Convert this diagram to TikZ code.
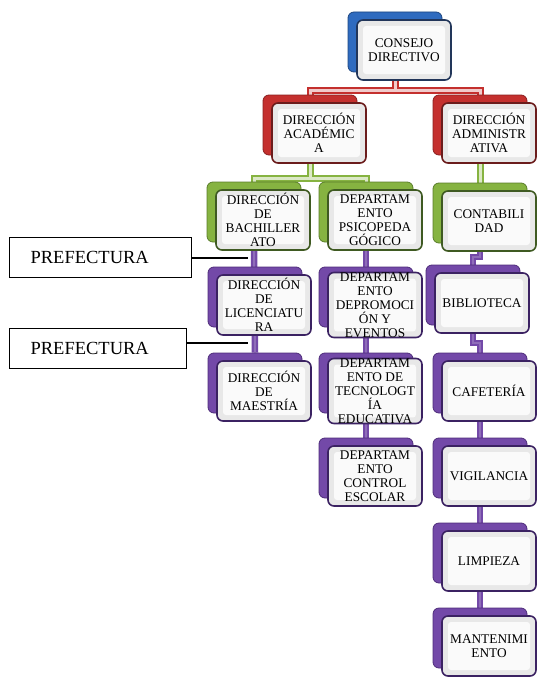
\documentclass[tikz,border=0pt]{standalone}
\usepackage{fontspec}
\setmainfont{Liberation Serif}
\usetikzlibrary{calc,backgrounds}
\definecolor{blueB}{HTML}{2F6BBF}\definecolor{blueD}{HTML}{1D4680}\definecolor{blueF}{HTML}{22365A}
\definecolor{redB}{HTML}{C4302E}\definecolor{redD}{HTML}{8A1F1F}\definecolor{redF}{HTML}{6B1C1C}
\definecolor{greenB}{HTML}{86B341}\definecolor{greenD}{HTML}{5A7D2A}\definecolor{greenF}{HTML}{3F5A22}
\definecolor{purB}{HTML}{7349A8}\definecolor{purD}{HTML}{4E2C7A}\definecolor{purF}{HTML}{3B2262}
\tikzset{
  backbox/.style={rectangle, rounded corners=6pt, minimum width=94pt, minimum height=60pt, inner sep=0pt, fill=#1B, draw=#1D, line width=0.8pt},
  frontbox/.style={rectangle, rounded corners=6pt, minimum width=94pt, minimum height=60pt, inner sep=0pt,
    fill=gray!18, draw=#1F, line width=1.6pt, align=center, font=\fontsize{13.3}{14}\selectfont,
    path picture={\fill[white!96!gray, rounded corners=3pt] ([shift={(6pt,-6pt)}]path picture bounding box.north west) rectangle ([shift={(-6pt,6pt)}]path picture bounding box.south east);}},
  redout/.style={draw=redB, line width=7pt},
  redin/.style={draw=white!75!redB, line width=3pt},
  greenout/.style={draw=greenB, line width=7pt},
  greenin/.style={draw=white!70!greenB, line width=3pt},
  purout/.style={draw=purB, line width=6.5pt},
  purin/.style={draw=white!20!purB, line width=2pt},
  prefbox/.style={rectangle, draw=black, line width=1.2pt, minimum height=40pt, inner xsep=21pt, align=left, font=\fontsize{18.5}{20}\selectfont},
  prefline/.style={draw=black, line width=1.2pt}
}
\begin{document}
\begin{tikzpicture}[x=1pt,y=-1pt]
\useasboundingbox (0,0) rectangle (536,677);
% back boxes
\node[backbox=blue]   (consejoB) at (395,42) {};
\node[backbox=red]    (acadB)    at (310,125) {};
\node[backbox=red]    (admB)     at (480,125) {};
\node[backbox=green]  (bachB)    at (254,212) {};
\node[backbox=green]  (psicoB)   at (366,212) {};
\node[backbox=green]  (contabB)  at (480,213) {};
\node[backbox=pur]    (licB)     at (255,297) {};
\node[backbox=pur]    (promoB)   at (366,297) {};
\node[backbox=pur]    (biblB)    at (473,295) {};
\node[backbox=pur]    (maestB)   at (255,383) {};
\node[backbox=pur]    (tecnoB)   at (366,383) {};
\node[backbox=pur]    (cafeB)    at (480,383) {};
\node[backbox=pur]    (escolarB) at (366,468) {};
\node[backbox=pur]    (vigilB)   at (480,468) {};
\node[backbox=pur]    (limpB)    at (480,553) {};
\node[backbox=pur]    (mantB)    at (480,638) {};
% front boxes
\node[frontbox=blue]  (consejo) at ($(consejoB)+(9,8)$) {CONSEJO\\DIRECTIVO};
\node[frontbox=red]   (acad)    at ($(acadB)+(9,8)$) {DIRECCIÓN\\ACADÉMIC\\A};
\node[frontbox=red]   (adm)     at ($(admB)+(9,8)$) {DIRECCIÓN\\ADMINISTR\\ATIVA};
\node[frontbox=green] (bach)    at ($(bachB)+(9,8)$) {DIRECCIÓN\\DE\\BACHILLER\\ATO};
\node[frontbox=green] (psico)   at ($(psicoB)+(9,8)$) {DEPARTAM\\ENTO\\PSICOPEDA\\GÓGICO};
\node[frontbox=green] (contab)  at ($(contabB)+(9,8)$) {CONTABILI\\DAD};
\node[frontbox=pur]   (lic)     at ($(licB)+(9,8)$) {DIRECCIÓN\\DE\\LICENCIATU\\RA};
\node[frontbox=pur]   (promo)   at ($(promoB)+(9,8)$) {DEPARTAM\\ENTO\\DEPROMOCI\\ÓN Y\\EVENTOS};
\node[frontbox=pur]   (bibl)    at ($(biblB)+(9,8)$) {BIBLIOTECA};
\node[frontbox=pur]   (maest)   at ($(maestB)+(9,8)$) {DIRECCIÓN\\DE\\MAESTRÍA};
\node[frontbox=pur]   (tecno)   at ($(tecnoB)+(9,8)$) {DEPARTAM\\ENTO DE\\TECNOLOGT\\ÍA\\EDUCATIVA};
\node[frontbox=pur]   (cafe)    at ($(cafeB)+(9,8)$) {CAFETERÍA};
\node[frontbox=pur]   (escolar) at ($(escolarB)+(9,8)$) {DEPARTAM\\ENTO\\CONTROL\\ESCOLAR};
\node[frontbox=pur]   (vigil)   at ($(vigilB)+(9,8)$) {VIGILANCIA};
\node[frontbox=pur]   (limp)    at ($(limpB)+(9,8)$) {LIMPIEZA};
\node[frontbox=pur]   (mant)    at ($(mantB)+(9,8)$) {MANTENIMI\\ENTO};
% prefectura
\node[prefbox, text width=140pt, anchor=north west] (pref1) at (9,237) {PREFECTURA};
\node[prefbox, text width=135pt, anchor=north west] (pref2) at (9,328) {PREFECTURA};
\coordinate (p1e) at (248,258);
\coordinate (p2e) at (248,343);
\draw[prefline] (pref1.east |- p1e) -- (p1e);
\draw[prefline] (pref2.east |- p2e) -- (p2e);
% connectors
\coordinate (rbar) at (0,90);
\coordinate (gbar) at (0,178);
\coordinate (j1) at (0,257);
\coordinate (j2) at (0,343);
\begin{pgfonlayer}{background}
\foreach \s in {redout,redin}{
  \draw[\s] (consejoB.south) -- (consejoB.south |- rbar);
  \draw[\s] (acadB.north) -- (acadB.north |- rbar) -- (admB.north |- rbar) -- (admB.north);
}
\foreach \s in {greenout,greenin}{
  \draw[\s] (acadB.south) -- (acadB.south |- gbar);
  \draw[\s] (bachB.north) -- (bachB.north |- gbar) -- (psicoB.north |- gbar) -- (psicoB.north);
  \draw[\s] (admB.south) -- (contabB.north);
}
\foreach \s in {purout,purin}{
  \draw[\s] (bachB.south) -- (maestB.north);
  \draw[\s] (psicoB.south) -- (escolarB.north);
  \draw[\s] (contabB.south) -- (contabB.south |- j1) -- (biblB.north |- j1) -- (biblB.north);
  \draw[\s] (biblB.south) -- (biblB.south |- j2) -- (cafeB.north |- j2) -- (cafeB.north);
  \draw[\s] (cafeB.south) -- (mantB.north);
}
\end{pgfonlayer}
\end{tikzpicture}
\end{document}
